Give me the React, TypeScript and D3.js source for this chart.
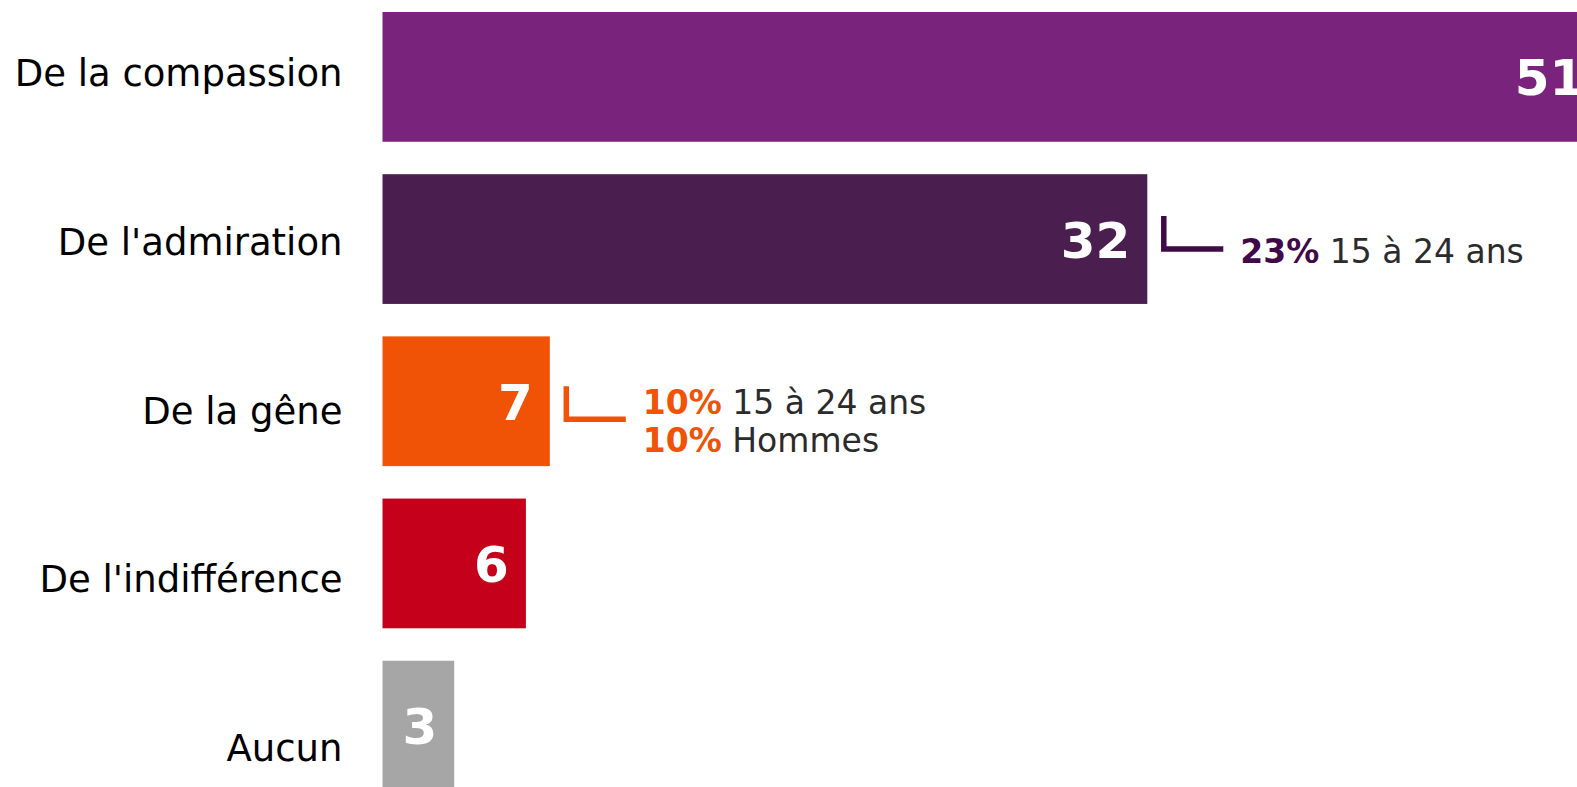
import React, { useRef, useEffect } from 'react';
import { select, scaleLinear, scaleBand, scalePoint } from 'd3';

const categories = ['De la compassion', "De l'admiration", 'De la gêne', "De l'indifférence", 'Aucun'];
const values = [51, 32, 7, 6, 3];
const colors = ['#7a237c', '#4b1e50', '#f05206', '#c5001a', '#a6a6a6'];

// callouts next to some bars
const noteCategories = ["De l'admiration", 'De la gêne'];
const noteColors = ['#3f0a47', '#f05206'];
const noteLines = [
    [['23%', '15 à 24 ans']],
    [['10%', '15 à 24 ans'], ['10%', 'Hommes']],
];

const W = 1577;
const H = 787;
const FONT = "'DejaVu Sans', Verdana, sans-serif";

const App = () => {
    const svgRef = useRef<SVGSVGElement>(null);

    useEffect(() => {
        const svg = select(svgRef.current);
        svg.selectAll('*').remove();

        const x = scaleLinear().domain([0, 51]).range([382.5, 382.5 + 51 * 23.9]);
        const y = scaleBand().domain(categories).range([12, 790.5]).paddingInner(0.2).paddingOuter(0);
        const yLabel = scalePoint().domain(categories).range([86, 761]);

        const rows = categories.map((c, i) => ({ c, v: values[i], color: colors[i] }));

        svg.selectAll('.bar')
            .data(rows)
            .join('rect')
            .attr('class', 'bar')
            .attr('x', x(0))
            .attr('y', d => y(d.c))
            .attr('width', d => x(d.v) - x(0))
            .attr('height', y.bandwidth())
            .attr('fill', d => d.color);

        svg.selectAll('.cat')
            .data(rows)
            .join('text')
            .attr('class', 'cat')
            .attr('x', x(0) - 40)
            .attr('y', d => yLabel(d.c))
            .attr('text-anchor', 'end')
            .attr('font-family', FONT)
            .attr('font-size', 37)
            .attr('fill', '#000')
            .text(d => d.c);

        svg.selectAll('.val')
            .data(rows)
            .join('text')
            .attr('class', 'val')
            .attr('x', d => x(d.v) - 17)
            .attr('y', d => y(d.c) + y.bandwidth() / 2 + 18.5)
            .attr('text-anchor', 'end')
            .attr('font-family', FONT)
            .attr('font-weight', 'bold')
            .attr('font-size', 50)
            .attr('fill', '#fff')
            .text(d => d.v);

        noteCategories.forEach((cat, i) => {
            const idx = categories.indexOf(cat);
            const end = x(values[idx]);
            const c = y(cat) + y.bandwidth() / 2;
            const lines = noteLines[i];
            const n = lines.length;
            const hy = c + 10 + 8 * (n - 1);
            const g = svg.append('g');

            g.append('path')
                .attr('d', `M${end + 16.5},${hy - 33} V${hy} H${end + 76}`)
                .attr('fill', 'none')
                .attr('stroke', noteColors[i])
                .attr('stroke-width', 5.5);

            const t = g.selectAll('text')
                .data(lines)
                .join('text')
                .attr('x', end + 93)
                .attr('y', (d, j) => hy + 14 + (j - (n - 1) / 2) * 37.6)
                .attr('font-family', FONT)
                .attr('font-size', 33);
            t.append('tspan')
                .attr('font-weight', 'bold')
                .attr('fill', noteColors[i])
                .text(d => d[0]);
            t.append('tspan')
                .attr('fill', '#2b2b2b')
                .text(d => ' ' + d[1]);
        });
    }, []);

    return (
        <svg
            ref={svgRef}
            width={W}
            height={H}
            style={{ position: 'fixed', top: 0, left: 0, display: 'block', overflow: 'hidden', background: '#fff' }}
        />
    );
};

export default App;
